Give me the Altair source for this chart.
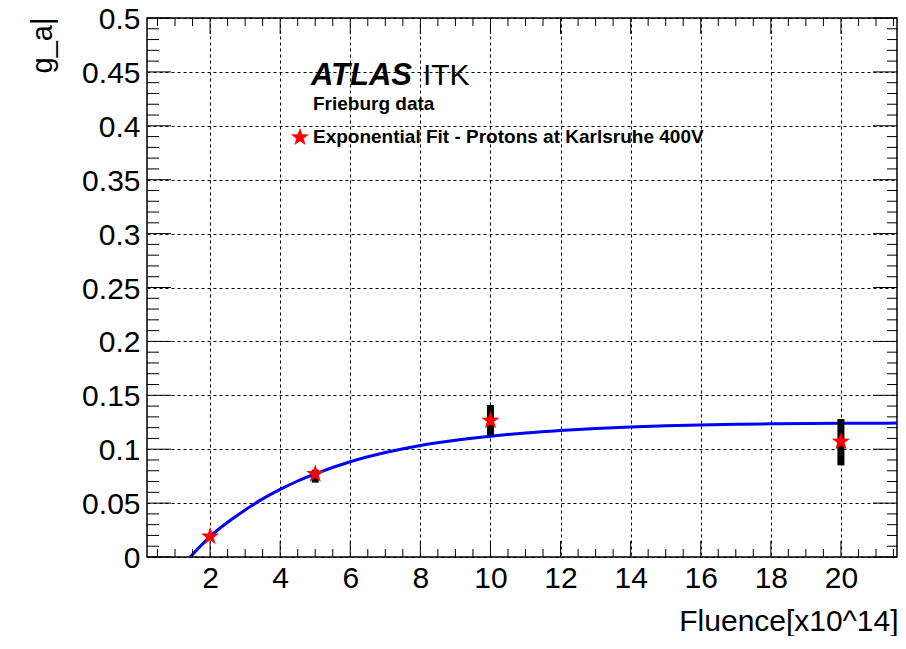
import altair as alt
import pandas as pd

# ---- data ----
fluence = [2, 5, 10, 20]
g_a = [0.019, 0.077, 0.1265, 0.107]
err_lo = [0.019, 0.069, 0.113, 0.085]
err_hi = [0.019, 0.081, 0.141, 0.128]

fit_x = [1.43, 2, 2.5, 3, 3.5, 4, 4.5, 5, 6, 7, 8, 9, 10, 11, 12, 13, 14, 15,
         16, 17, 18, 19, 20, 21, 21.6]
fit_y = [0.0, 0.019, 0.0322, 0.0437, 0.0539, 0.0627, 0.0705, 0.0772, 0.0884, 0.0969,
         0.1035, 0.1083, 0.1121, 0.1151, 0.1174, 0.1192, 0.1206, 0.1217, 0.1225, 0.1231,
         0.1235, 0.1238, 0.124, 0.1241, 0.1242]

x_labels = [2, 4, 6, 8, 10, 12, 14, 16, 18, 20]
y_labels = [0, 0.05, 0.1, 0.15, 0.2, 0.25, 0.3, 0.35, 0.4, 0.45, 0.5]
x_minor = [v / 2 for v in range(1, 44) if v % 4 != 0]
y_minor = [v / 100 for v in range(1, 50) if v % 5 != 0]

X_DOMAIN = [0.2, 21.6]
Y_DOMAIN = [0, 0.5]
W, H = 750, 539
FONT = "Liberation Sans"
STAR = ("M0,-1L0.235,-0.324L0.951,-0.309L0.380,0.124L0.588,0.809L0,0.4"
        "L-0.588,0.809L-0.380,0.124L-0.951,-0.309L-0.235,-0.324Z")

x_axis = alt.Axis(orient="bottom", values=x_labels, format="d", ticks=False, tickSize=0, domain=False,
                  grid=True, gridDash=[3, 3], gridColor="black", gridOpacity=1, gridWidth=1,
                  labelFont=FONT, labelFontSize=30, labelColor="black", labelPadding=6,
                  labelFlush=False, labelOverlap=False,
                  title="Fluence[x10^14]", titleFont=FONT, titleFontSize=30,
                  titleFontWeight="normal", titleColor="black", titleAlign="right",
                  titleBaseline="alphabetic", titleX=751, titleY=73)
y_axis = alt.Axis(orient="left", values=y_labels, format="~g", ticks=False, tickSize=0, domain=False,
                  grid=True, gridDash=[3, 3], gridColor="black", gridOpacity=1, gridWidth=1,
                  labelFont=FONT, labelFontSize=30, labelColor="black", labelPadding=7,
                  labelOffset=1.5, labelFlush=False, labelOverlap=False,
                  title="g_a|", titleFont=FONT, titleFontSize=29, titleFontWeight="normal",
                  titleColor="black", titleAngle=270, titleAlign="right",
                  titleBaseline="alphabetic", titleX=-96, titleY=-1)

def xe(field):
    return alt.X(field, type="quantitative", scale=alt.Scale(domain=X_DOMAIN, nice=False, zero=False), axis=x_axis)

def ye(field):
    return alt.Y(field, type="quantitative", scale=alt.Scale(domain=Y_DOMAIN, nice=False), axis=y_axis)

pts = pd.DataFrame({"x": fluence, "y": g_a, "lo": err_lo, "hi": err_hi})
fit = pd.DataFrame({"x": fit_x, "y": fit_y})

curve = alt.Chart(fit).mark_line(color="#0000ff", strokeWidth=3, interpolate="monotone").encode(
    x=xe("x"), y=ye("y"))

errs = alt.Chart(pts).mark_rule(color="black", strokeWidth=7, strokeCap="butt").encode(
    x=xe("x"), y=ye("lo"), y2="hi")

stars = alt.Chart(pts).mark_point(shape=STAR, filled=True, color="#ff0000", size=360, opacity=1).encode(
    x=xe("x"), y=ye("y"))

# ticks (drawn inward like the original)
xt_major = pd.DataFrame({"x": x_labels})
xt_minor = pd.DataFrame({"x": x_minor})
yt_major = pd.DataFrame({"y": y_labels})
yt_minor = pd.DataFrame({"y": y_minor})

tick_layers = [
    alt.Chart(xt_major).mark_rule(color="black", strokeWidth=1).encode(x=xe("x"), y=alt.value(H), y2=alt.value(H - 16)),
    alt.Chart(xt_major).mark_rule(color="black", strokeWidth=1).encode(x=xe("x"), y=alt.value(0), y2=alt.value(16)),
    alt.Chart(xt_minor).mark_rule(color="black", strokeWidth=1).encode(x=xe("x"), y=alt.value(H), y2=alt.value(H - 8)),
    alt.Chart(xt_minor).mark_rule(color="black", strokeWidth=1).encode(x=xe("x"), y=alt.value(0), y2=alt.value(8)),
    alt.Chart(yt_major).mark_rule(color="black", strokeWidth=1).encode(y=ye("y"), x=alt.value(0), x2=alt.value(24)),
    alt.Chart(yt_major).mark_rule(color="black", strokeWidth=1).encode(y=ye("y"), x=alt.value(W), x2=alt.value(W - 24)),
    alt.Chart(yt_minor).mark_rule(color="black", strokeWidth=1).encode(y=ye("y"), x=alt.value(0), x2=alt.value(12)),
    alt.Chart(yt_minor).mark_rule(color="black", strokeWidth=1).encode(y=ye("y"), x=alt.value(W), x2=alt.value(W - 10)),
]

# annotations (positioned in data coordinates)
ann = pd.DataFrame({
    "x": [4.879, 8.074, 4.936, 4.936],
    "y": [0.4378, 0.4378, 0.4145, 0.3837],
    "t": ["ATLAS", "ITK", "Frieburg data", "Exponential Fit - Protons at Karlsruhe 400V"],
    "style": ["atlas", "itk", "sub", "leg"],
})

def ann_layer(style, size, weight, italic=False):
    return alt.Chart(ann[ann["style"] == style]).mark_text(
        align="left", baseline="alphabetic", font=FONT, fontSize=size, fontWeight=weight,
        fontStyle="italic" if italic else "normal", color="black").encode(
        x=xe("x"), y=ye("y"), text="t:N")

leg_star = alt.Chart(pd.DataFrame({"x": [4.565], "y": [0.3893]})).mark_point(
    shape=STAR, filled=True, color="#ff0000", size=360, opacity=1).encode(x=xe("x"), y=ye("y"))

chart = alt.layer(
    curve, errs, stars,
    ann_layer("atlas", 31, "bold", True),
    ann_layer("itk", 30, "normal"),
    ann_layer("sub", 19, "bold"),
    ann_layer("leg", 19, "bold"),
    leg_star,
    *tick_layers,
).properties(
    width=W, height=H,
    autosize=alt.AutoSizeParams(type="none"),
    padding={"left": 139, "top": 10, "right": 1, "bottom": 79},
    background="white",
).configure_view(stroke="black", strokeWidth=1.5)

chart.save("out.html", embed_options={"renderer": "svg", "actions": False})
